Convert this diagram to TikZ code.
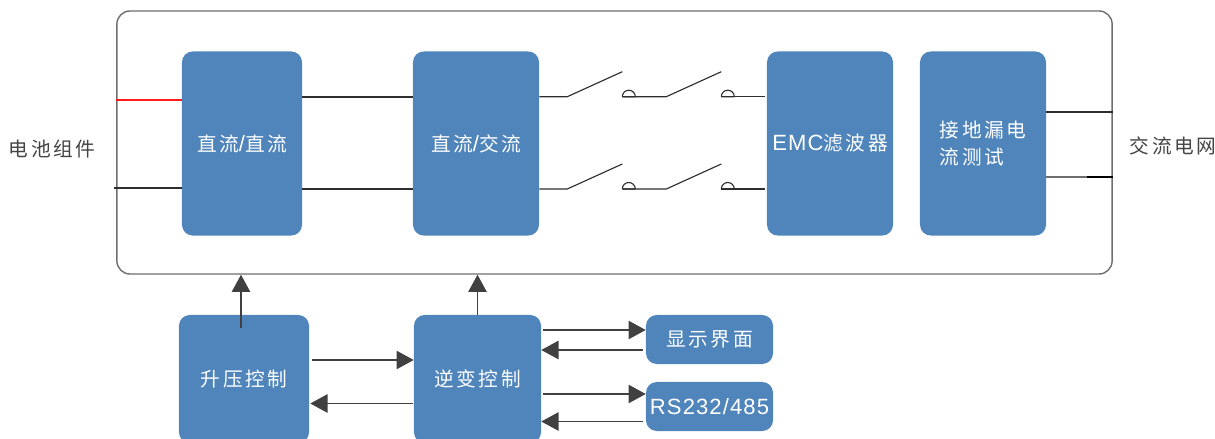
\documentclass[tikz,border=0pt]{standalone}
\usepackage{fontspec}
\setmainfont[LetterSpace=13]{Noto Sans CJK SC}
\newfontfamily\latn[LetterSpace=5,Scale=1.12]{Liberation Sans}
\usetikzlibrary{calc,arrows.meta}
\definecolor{BoxBlue}{HTML}{4F85BB}
\definecolor{LineGray}{HTML}{6E6E6E}
\definecolor{WireDark}{HTML}{2E2E2E}
\definecolor{ArrowDark}{HTML}{404040}
\definecolor{TextGray}{HTML}{444444}
\tikzset{
  box/.style={fill=BoxBlue, rounded corners=0.27cm, inner sep=0pt, align=center, text=white, font=\fontsize{14}{18.5}\selectfont},
  wire/.style={draw=WireDark, line width=0.8pt},
  arr/.style={draw=ArrowDark, line width=0.9pt, -{Triangle[length=0.43cm,width=0.46cm,fill=ArrowDark]}},
  side/.style={text=TextGray, inner sep=0pt, font=\fontsize{14}{18.5}\selectfont}
}

\begin{document}
\begin{tikzpicture}[x=0.025cm, y=-0.025cm]
        \useasboundingbox (0,0) rectangle (1215,439);
        % Cadre
        \node[draw=LineGray, line width=1pt, rounded corners=0.33cm, minimum width=24.875cm, minimum height=6.575cm] (frame) at (614.5,142.5) {};

        % Blocs du haut
        \node[box, minimum width=3cm, minimum height=4.6cm] (dcdc) at (242,143.5) {直流{\latn/}直流};
        \node[box, minimum width=3.15cm, minimum height=4.6cm] (dcac) at (476,143.5) {直流{\latn/}交流};
        \node[box, minimum width=3.15cm, minimum height=4.6cm] (emc) at (830,143.5) {{\latn EMC}滤波器};
        \node[box, minimum width=3.15cm, minimum height=4.6cm, align=left] (leak) at (983,143.5) {接地漏电\\流测试};

        % Blocs du bas
        \node[box, minimum width=3.25cm, minimum height=3.2cm] (boost) at (244,379) {升压控制};
        \node[box, minimum width=3.175cm, minimum height=3.2cm] (inv) at (477.5,379) {逆变控制};
        \node[box, minimum width=3.175cm, minimum height=1.225cm] (disp) at (709.5,339.5) {显示界面};
        \node[box, minimum width=3.175cm, minimum height=1.225cm] (rs) at (709.5,406.5) {{\latn RS232/485}};

        % Textes lateraux
        \node[side] (pv) at (52,149) {电池组件};
        \node[side] (grid) at (1173,146) {交流电网};

        % Entree et liaison continue
        \draw[draw=red!90!white, line width=0.8pt] ($(frame.west)+(0,-42.5)$) -- ($(dcdc.west)+(0,-43.5)$);
        \draw[wire] ($(frame.west)+(-2,45.5)$) -- ($(dcdc.west)+(0,44.5)$);
        \draw[wire] ($(dcdc.east)+(0,-46.5)$) -- ($(dcac.west)+(0,-46.5)$);
        \draw[wire] ($(dcdc.east)+(0,45.5)$) -- ($(dcac.west)+(0,45.5)$);

        % Interrupteurs
        \foreach \name/\dy in {up/-46.8, low/45.5} {
          \coordinate (a\name) at ($(dcac.east)+(28,\dy)$);
          \coordinate (b\name) at ($(a\name)+(55,-25)$);
          \coordinate (c\name) at ($(a\name)+(55,0)$);
          \coordinate (d\name) at ($(c\name)+(44,0)$);
          \coordinate (e\name) at ($(d\name)+(55,-25)$);
          \coordinate (f\name) at ($(d\name)+(55,0)$);
          \draw[wire] (dcac.east |- a\name) -- (a\name) -- (b\name);
          \draw[wire] (c\name) -- (d\name) -- (e\name);
          \draw[wire] (f\name) -- ($(emc.west |- f\name)+(-2,0)$);
          \draw[wire] (c\name) -- ++(13,0) (c\name) arc[start angle=180, end angle=0, x radius=6.5, y radius=-6.5];
          \draw[wire] (f\name) -- ++(13,0) (f\name) arc[start angle=180, end angle=0, x radius=6.5, y radius=-6.5];
        }

        % Sortie
        \draw[wire] ($(leak.east)+(0,-31.5)$) -- ($(frame.east)+(0,-30.5)$);
        \draw[draw=LineGray, line width=0.8pt] ($(leak.east)+(0,33.5)$) -- ($(frame.east)+(-26,34.5)$);
        \draw[draw=black, line width=0.8pt] ($(frame.east)+(-26,34.5)$) -- ($(frame.east)+(0,34.5)$);

        % Commandes
        \draw[arr] ($(boost.north)+(-3,13)$) -- ($(boost.north |- frame.south)+(-3,0)$);
        \draw[arr] (inv.north) -- (inv.north |- frame.south);
        \draw[arr] ($(boost.east)+(3,-19)$) -- ($(inv.west)+(0,-19)$);
        \draw[arr] ($(inv.west)+(-1,24.5)$) -- ($(boost.east)+(1,24.5)$);
        \draw[arr] ($(inv.east)+(2,-49)$) -- ($(disp.west)+(0,-9.5)$);
        \draw[arr] ($(disp.west)+(-3,10.5)$) -- ($(inv.east)+(0,-29)$);
        \draw[arr] ($(inv.east)+(2,15)$) -- ($(rs.west)+(0,-12.5)$);
        \draw[arr] ($(rs.west)+(-3,15)$) -- ($(inv.east)+(0,42.5)$);
    \end{tikzpicture}
\end{document}
